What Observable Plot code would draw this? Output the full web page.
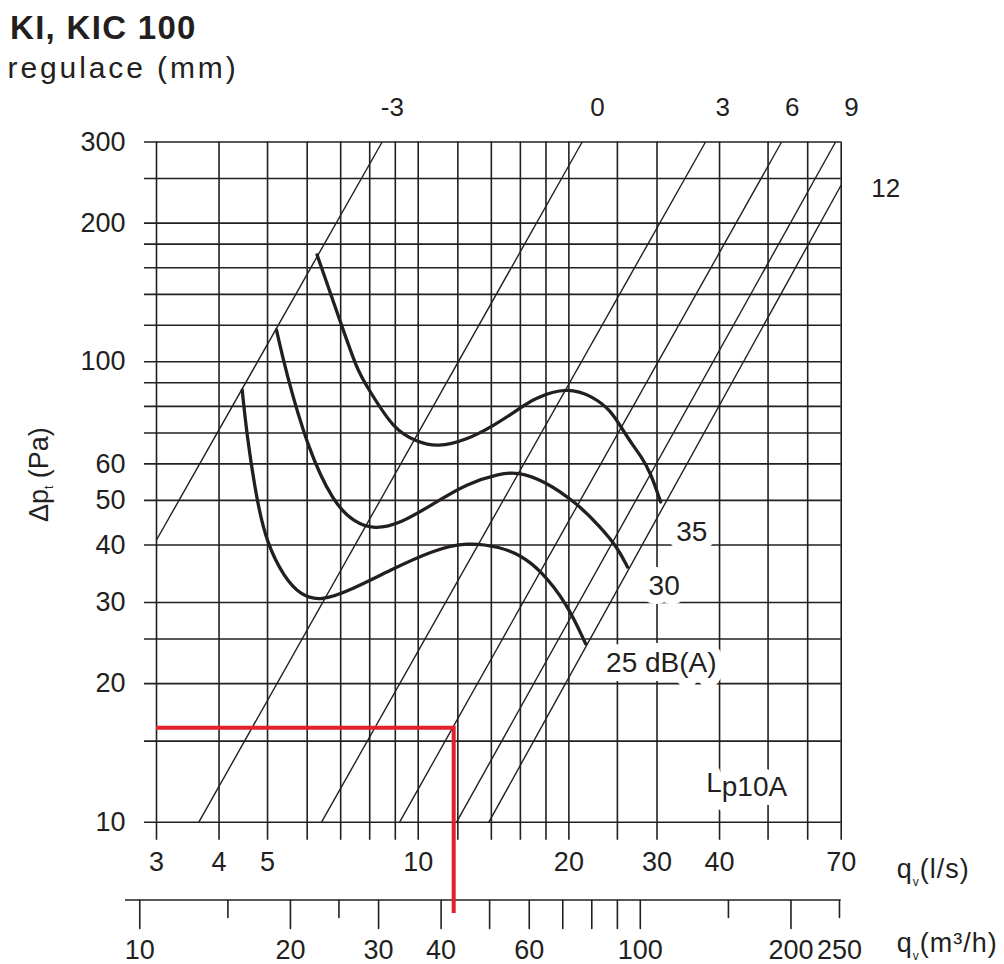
<!DOCTYPE html>
<html>
<head>
<meta charset="utf-8">
<script src="https://cdn.jsdelivr.net/npm/d3@7"></script>
<script src="https://cdn.jsdelivr.net/npm/@observablehq/plot@0.6"></script>
<style>
  html, body { margin: 0; padding: 0; background: #fff; overflow: hidden; }
  body { font-family: "Liberation Sans", Arial, Helvetica, sans-serif; color: #231f20; }
  #head { position: relative; height: 92px; }
  #title { position: absolute; left: 10px; top: 11px; font-size: 33px; line-height: 33px; font-weight: bold; letter-spacing: 1.3px; white-space: nowrap; }
  #subtitle { position: absolute; left: 7.5px; top: 53px; font-size: 30px; line-height: 30px; letter-spacing: 2.9px; white-space: nowrap; }
  #chart svg { display: block; }
</style>
</head>
<body>
<div id="head">
  <div id="title">KI, KIC 100</div>
  <div id="subtitle">regulace (mm)</div>
</div>
<div id="chart"></div>
<script>
// ---- grid & axes (q in l/s, Δp in Pa) ----
const xGrid = [3, 4, 5, 6, 7, 8, 9, 10, 12, 14, 16, 18, 20, 25, 30, 40, 50, 60, 70];
const xTickLabels = [3, 4, 5, 10, 20, 30, 40, 70];
const yGrid = [10, 15, 20, 25, 30, 40, 50, 60, 70, 80, 90, 100, 120, 140, 160, 180, 200, 250, 300];
const yTickLabels = [10, 20, 30, 40, 50, 60, 100, 200, 300];

// secondary axis in m3/h
const m3MajorTicks = [10, 20, 30, 40, 50, 60, 70, 80, 90, 100, 200];
const m3MinorTicks = [15, 25, 150, 250];
const m3TickLabels = [10, 20, 30, 40, 60, 100, 200, 250];
const m3PerLs = 3.6;

// regulation lines (mm): start/end points
const regNames  = ["-3", "0", "3", "6", "9", "12"];
const regStartQ = [3, 3.645, 6.41, 9.18, 11.93, 13.84];
const regStartP = [41, 10, 10, 10, 10, 10];
const regEndQ   = [8.47, 21.26, 37.5, 53.2, 68.2, 70];
const regEndP   = [300, 300, 300, 300, 300, 242];
const regLabelQ = [8.88, 22.8, 40.6, 55.9, 73.4];   // labels above the frame
const reg12Label = {q: 85.9, p: 238};                // "12" beside the frame

// noise curves Lp10A (q l/s, Δp Pa)
const curve25 = [[4.45, 86.8], [4.55, 68.7], [4.77, 49.2], [4.99, 40.3], [5.39, 34.1], [5.82, 31.1], [6.38, 30.2], [7.32, 31.9], [8.8, 35.3], [10.74, 39.0], [12.5, 40.6], [14.6, 39.6], [16.0, 38.0], [17.55, 35.3], [19.85, 29.8], [21.6, 24.4]];
const curve30 = [[5.21, 117.2], [5.43, 95.9], [6.0, 65.3], [6.78, 49.2], [7.44, 44.9], [8.15, 43.2], [9.22, 44.5], [10.74, 49.2], [12.5, 54.4], [14.6, 57.2], [15.77, 57.6], [17.8, 55.3], [20.8, 49.2], [23.1, 43.8], [24.98, 39.6], [26.2, 35.8]];
const curve35 = [[6.28, 170.6], [6.97, 123.2], [7.55, 95.9], [7.91, 88.2], [8.94, 71.0], [9.95, 67.0], [10.9, 65.2], [12.5, 67.6], [14.2, 72.8], [16.0, 79.3], [17.0, 83.2], [19.85, 88.2], [22.4, 83.9], [24.2, 78.5], [25.4, 72.2], [26.9, 65.6], [27.8, 62.6], [29.1, 57.6], [30.5, 49.6]];
const curveLevels = ["25", "30", "35"];
const dbLabelText = ["35", "30", "25 dB(A)"];
const dbLabelQ = [35.2, 31.0, 30.6];
const dbLabelP = [42.7, 32.5, 22.2];
const lpLabel = {q: 37.7, p: 11.6};

// operating point (red)
const opQ = 11.8, opP = 16;

// ---- derived tables ----
const regTable = regNames.map((name, i) => ({name, q1: regStartQ[i], p1: regStartP[i], q2: regEndQ[i], p2: regEndP[i]}));
const curveTable = [curve25, curve30, curve35].flatMap((c, k) => c.map(([q, p]) => ({level: curveLevels[k], q, p})));
const dbLabels = dbLabelText.map((text, i) => ({text, q: dbLabelQ[i], p: dbLabelP[i]}));

const ink = "#231f20";
const red = "#e3212b";
const font = "'Liberation Sans', Arial, Helvetica, sans-serif";
const tickLine = {draw(ctx, l) { ctx.moveTo(0, 0); ctx.lineTo(0, l); }};

function lpText(g, x, y, halo) {
  const t = g.append("text").attr("x", x).attr("y", y).attr("font-size", 28).attr("text-anchor", "start");
  if (halo) t.attr("fill", "white").attr("stroke", "white").attr("stroke-width", 18).attr("stroke-linejoin", "round");
  t.append("tspan").text("L");
  t.append("tspan").attr("dy", 4).text("p10A");
}

function annotations(index, scales, values, dims) {
  const g = d3.create("svg:g").attr("fill", ink).attr("font-family", font).attr("text-anchor", "start");
  const right = dims.width - dims.marginRight;
  const bottom = dims.height - dims.marginBottom;
  // secondary axis baseline
  g.append("line")
    .attr("x1", dims.marginLeft - 31).attr("x2", right)
    .attr("y1", bottom + 78.3).attr("y2", bottom + 78.3)
    .attr("stroke", ink).attr("stroke-width", 1.6);
  // x axis titles
  const t1 = g.append("text").attr("x", right + 56).attr("y", bottom + 56.6).attr("font-size", 27).attr("letter-spacing", 1);
  t1.append("tspan").text("q");
  t1.append("tspan").attr("font-size", 12).attr("dy", 8).text("v");
  t1.append("tspan").attr("dy", -8).text("(l/s)");
  const t2 = g.append("text").attr("x", right + 56).attr("y", bottom + 130).attr("font-size", 27).attr("letter-spacing", 1);
  t2.append("tspan").text("q");
  t2.append("tspan").attr("font-size", 12).attr("dy", 8).text("v");
  t2.append("tspan").attr("dy", -8).text("(m³/h)");
  // y axis title
  const ty = g.append("text")
    .attr("transform", `translate(48,${(dims.marginTop + bottom) / 2 - 7}) rotate(-90)`)
    .attr("text-anchor", "middle").attr("font-size", 27);
  ty.append("tspan").text("Δp");
  ty.append("tspan").attr("font-size", 12).attr("dy", 5).text("t");
  ty.append("tspan").attr("dy", -5).text(" (Pa)");
  // Lp10A label with white knock-out behind it
  lpText(g, scales.x(lpLabel.q), scales.y(lpLabel.p), true);
  lpText(g, scales.x(lpLabel.q), scales.y(lpLabel.p), false);
  return g.node();
}

function operatingPoint(index, scales, values, dims) {
  const bottom = dims.height - dims.marginBottom;
  const x0 = scales.x(3), x1 = scales.x(opQ), y0 = scales.y(opP);
  return d3.create("svg:path")
    .attr("d", `M${x0},${y0}H${x1}V${bottom + 91.3}`)
    .attr("fill", "none").attr("stroke", red).attr("stroke-width", 4)
    .attr("stroke-linejoin", "miter")
    .node();
}

const chart = Plot.plot({
  width: 1004,
  height: 872,
  marginLeft: 156,
  marginRight: 163.3,
  marginTop: 49.5,
  marginBottom: 142.3,
  x: {type: "log", domain: [3, 70], axis: null},
  y: {type: "log", domain: [10, 300]},
  style: {fontFamily: font, fontSize: "27px", color: ink, background: "white", overflow: "visible"},
  marks: [
    Plot.ruleX(xGrid, {x: d => d, insetBottom: -18, stroke: ink, strokeWidth: 1.6}),
    Plot.ruleY(yGrid, {y: d => d, insetLeft: -12, stroke: ink, strokeWidth: 1.6}),
    Plot.axisY(yTickLabels, {anchor: "left", tickSize: 0, tickPadding: 31, tickFormat: d => String(d), label: null, fontSize: 27, fill: ink}),
    Plot.text(xTickLabels, {x: d => d, frameAnchor: "bottom", lineAnchor: "middle", dy: 40.5, text: d => String(d), fontSize: 27, fill: ink}),
    Plot.text(dbLabels, {x: "q", y: "p", text: "text", fontSize: 28, fill: ink, stroke: "white", strokeWidth: 18}),
    annotations,
    Plot.link(regTable, {x1: "q1", y1: "p1", x2: "q2", y2: "p2", stroke: ink, strokeWidth: 1.4}),
    Plot.line(curveTable, {x: "q", y: "p", z: "level", curve: "basis", stroke: ink, strokeWidth: 3.3}),
    Plot.text(regNames.slice(0, 5), {x: (d, i) => regLabelQ[i], frameAnchor: "top", lineAnchor: "middle", dy: -34.5, text: d => d, fontSize: 26, fill: ink}),
    Plot.text([reg12Label], {x: "q", y: "p", text: () => regNames[5], fontSize: 26, fill: ink}),
    // secondary (m3/h) axis
    Plot.vector(m3MajorTicks, {x: d => d / m3PerLs, frameAnchor: "bottom", dy: 78.3, length: 28, anchor: "start", shape: tickLine, stroke: ink, strokeWidth: 1.6}),
    Plot.vector(m3MinorTicks, {x: d => d / m3PerLs, frameAnchor: "bottom", dy: 78.3, length: 17, anchor: "start", shape: tickLine, stroke: ink, strokeWidth: 1.6}),
    Plot.text(m3TickLabels, {x: d => d / m3PerLs, frameAnchor: "bottom", lineAnchor: "middle", dy: 128.3, text: d => String(d), fontSize: 27, fill: ink}),
    // operating point
    operatingPoint
  ]
});
document.getElementById("chart").appendChild(chart);
</script>
</body>
</html>
